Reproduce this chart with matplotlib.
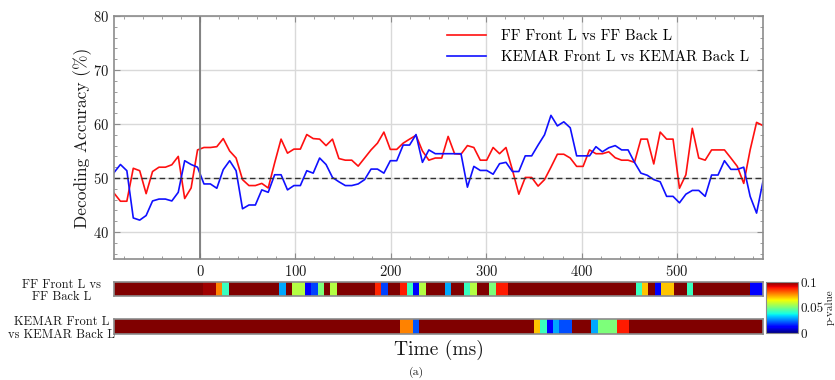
import numpy as np
import matplotlib
matplotlib.use('Agg')
import matplotlib.pyplot as plt
from matplotlib.ticker import MultipleLocator

plt.rcParams['font.family'] = 'serif'
plt.rcParams['font.serif'] = ['cmr10']
plt.rcParams['mathtext.fontset'] = 'cm'
plt.rcParams['axes.formatter.use_mathtext'] = True

# ---------------- data ----------------
t_start, t_end = -90, 590

ff_acc = [47.2, 45.7, 45.7, 51.8, 51.35, 47.1, 51.2, 52.0, 52.0, 52.45,
          54.0, 46.2, 48.15, 55.2, 55.65, 55.65, 55.8, 57.3, 55.0, 53.7,
          49.7, 48.6, 48.6, 49.0, 48.15, 52.8, 57.2, 54.6, 55.35, 55.35,
          58.05, 57.3, 57.2, 56.0, 57.2, 53.6, 53.3, 53.3, 52.2, 53.7,
          55.2, 56.45, 58.5, 55.3, 55.3, 56.45, 57.2, 57.9, 55.0, 53.3,
          53.7, 53.7, 57.7, 54.5, 54.4, 56.0, 55.65, 53.3, 53.3, 55.65,
          54.5, 55.65, 51.5, 47.0, 50.1, 50.1, 48.5, 49.7, 52.0, 54.4,
          54.4, 53.7, 52.15, 52.15, 55.2, 54.5, 54.5, 54.85, 53.75, 53.3,
          53.3, 52.9, 57.2, 57.2, 52.6, 58.5, 57.2, 57.2, 48.1, 50.6,
          59.2, 53.7, 53.3, 55.2, 55.2, 55.2, 53.7, 52.15, 49.0, 55.2,
          60.3, 59.7]

kemar_acc = [51.0, 52.5, 51.35, 42.6, 42.2, 43.05, 45.75, 46.1, 46.1, 45.75,
             47.35, 53.2, 52.5, 52.0, 48.9, 48.9, 48.1, 51.55, 53.2, 51.35,
             44.3, 45.0, 45.0, 47.8, 47.35, 50.6, 50.6, 47.8, 48.6, 48.6,
             51.35, 50.9, 53.7, 52.5, 50.1, 49.3, 48.6, 48.6, 48.9, 49.7,
             51.65, 51.65, 50.9, 53.2, 53.2, 56.1, 56.1, 58.05, 52.9, 55.2,
             54.5, 54.5, 54.5, 54.5, 54.5, 48.3, 52.15, 51.4, 51.4, 50.7,
             52.65, 52.9, 51.2, 51.2, 54.1, 54.1, 56.1, 58.0, 61.6, 59.65,
             60.4, 59.3, 54.1, 54.1, 54.1, 55.8, 54.85, 55.6, 56.0, 55.2,
             55.2, 52.9, 50.9, 50.5, 49.7, 49.3, 46.6, 46.6, 45.4, 47.0,
             47.7, 47.7, 46.6, 50.55, 50.55, 53.2, 51.6, 51.6, 52.0, 46.6,
             43.5, 49.4]

ff_p = [0.1, 0.1, 0.1, 0.1, 0.1, 0.1, 0.1, 0.1, 0.1, 0.1,
        0.1, 0.1, 0.1, 0.1, 0.097, 0.097, 0.077, 0.042, 0.1, 0.1,
        0.1, 0.1, 0.1, 0.1, 0.1, 0.1, 0.029, 0.1, 0.057, 0.057,
        0.011, 0.019, 0.05, 0.1, 0.057, 0.1, 0.1, 0.1, 0.1, 0.1,
        0.1, 0.087, 0.019, 0.1, 0.1, 0.088, 0.042, 0.011, 0.057, 0.1,
        0.1, 0.1, 0.029, 0.1, 0.1, 0.042, 0.057, 0.1, 0.1, 0.05,
        0.088, 0.088, 0.1, 0.1, 0.1, 0.1, 0.1, 0.1, 0.1, 0.1,
        0.1, 0.1, 0.1, 0.1, 0.1, 0.1, 0.1, 0.1, 0.1, 0.1,
        0.1, 0.1, 0.042, 0.07, 0.1, 0.011, 0.07, 0.07, 0.1, 0.1,
        0.042, 0.1, 0.1, 0.1, 0.1, 0.1, 0.1, 0.1, 0.1, 0.1,
        0.012, 0.012]

kemar_p = [0.1, 0.1, 0.1, 0.1, 0.1, 0.1, 0.1, 0.1, 0.1, 0.1,
           0.1, 0.1, 0.1, 0.1, 0.1, 0.1, 0.1, 0.1, 0.1, 0.1,
           0.1, 0.1, 0.1, 0.1, 0.1, 0.1, 0.1, 0.1, 0.1, 0.1,
           0.1, 0.1, 0.1, 0.1, 0.1, 0.1, 0.1, 0.1, 0.1, 0.1,
           0.1, 0.1, 0.1, 0.1, 0.1, 0.077, 0.077, 0.021, 0.1, 0.1,
           0.1, 0.1, 0.1, 0.1, 0.1, 0.1, 0.1, 0.1, 0.1, 0.1,
           0.1, 0.1, 0.1, 0.1, 0.1, 0.1, 0.07, 0.042, 0.012, 0.029,
           0.02, 0.02, 0.1, 0.1, 0.1, 0.029, 0.05, 0.05, 0.05, 0.088,
           0.088, 0.1, 0.1, 0.1, 0.1, 0.1, 0.1, 0.1, 0.1, 0.1,
           0.1, 0.1, 0.1, 0.1, 0.1, 0.1, 0.1, 0.1, 0.1, 0.1,
           0.1, 0.1]

series_labels = ['FF Front L vs FF Back L', 'KEMAR Front L vs KEMAR Back L']
row_labels = ['FF Front L vs\nFF Back L', 'KEMAR Front L\nvs KEMAR Back L']
x_ticks = [0, 100, 200, 300, 400, 500]
y_ticks = [40, 50, 60, 70, 80]

time = np.linspace(t_start, t_end, len(ff_acc))

# ---------------- figure ----------------
W, H = 835, 380
fig = plt.figure(figsize=(W / 100, H / 100), dpi=100)

def box(x0, y0, x1, y1):
    return [x0 / W, 1 - y1 / H, (x1 - x0) / W, (y1 - y0) / H]

spine_c = '#8c8c8c'
txt_c = '#1a1a1a'
ax = fig.add_axes(box(114, 16, 763, 259))
ax.plot(time, ff_acc, color='#ff1010', lw=1.2, label=series_labels[0])
ax.plot(time, kemar_acc, color='#1010ff', lw=1.2, label=series_labels[1])
ax.axhline(50, color='#333333', ls='--', lw=1.0, dashes=(4, 2.5))
ax.axvline(0, color='#7a7a7a', lw=1.3)
ax.set_xlim(t_start, t_end)
ax.set_ylim(35, 80)
ax.set_xticks(x_ticks)
ax.set_yticks(y_ticks)
ax.xaxis.set_minor_locator(MultipleLocator(20))
ax.yaxis.set_minor_locator(MultipleLocator(2))
ax.grid(True, which='major', color='#d9d9d9', lw=1.0)
ax.set_axisbelow(True)
ax.tick_params(which='both', direction='in', top=True, right=True,
               colors=spine_c, labelcolor=txt_c, labelsize=10.5)
ax.tick_params(which='major', length=4)
ax.tick_params(which='minor', length=2)
for s in ax.spines.values():
    s.set_color(spine_c)
    s.set_linewidth(1.2)
ax.set_ylabel('Decoding Accuracy (%)', fontsize=12.5, color=txt_c, labelpad=1)
leg = ax.legend(loc='upper right', frameon=False, fontsize=10.8,
                bbox_to_anchor=(1.0, 1.0), handlelength=2.6,
                handletextpad=1.0, labelspacing=0.5)

# heatmap rows
cmap = plt.get_cmap('jet')
edges = np.linspace(t_start, t_end, len(ff_p) + 1)
rows = [(ff_p, (114, 282, 763, 296)), (kemar_p, (114, 319, 763, 334))]
mesh = None
for (pvals, bb), lab in zip(rows, row_labels):
    hax = fig.add_axes(box(*bb))
    mesh = hax.pcolormesh(edges, [0, 1], np.array([pvals]), cmap=cmap,
                          vmin=0, vmax=0.1)
    hax.set_xlim(t_start, t_end)
    hax.set_xticks([])
    hax.set_yticks([])
    for s in hax.spines.values():
        s.set_color(spine_c)
        s.set_linewidth(1.2)
    yc = (bb[1] + bb[3]) / 2 + 2
    fig.text(61.5 / W, 1 - yc / H, lab, ha='center', va='center',
             multialignment='center', fontsize=9, color=txt_c,
             linespacing=1.05)

cax = fig.add_axes(box(766, 282, 798, 333))
cb = fig.colorbar(mesh, cax=cax, ticks=[0, 0.05, 0.1])
cb.ax.set_yticklabels(['0', '0.05', '0.1'])
cb.ax.tick_params(labelsize=9.5, length=0, labelcolor=txt_c, pad=2)
cb.outline.set_edgecolor(spine_c)
fig.text(829.5 / W, 1 - 307 / H, 'p-value', rotation=90, ha='center',
         va='center', fontsize=8, color=txt_c)

fig.text(438.5 / W, 1 - 350 / H, 'Time (ms)', ha='center', va='center',
         fontsize=14, color=txt_c)
fig.text(416 / W, 1 - 372 / H, '(a)', ha='center', va='center',
         fontsize=8.5, color=txt_c)

fig.savefig('out.png', dpi=100)
